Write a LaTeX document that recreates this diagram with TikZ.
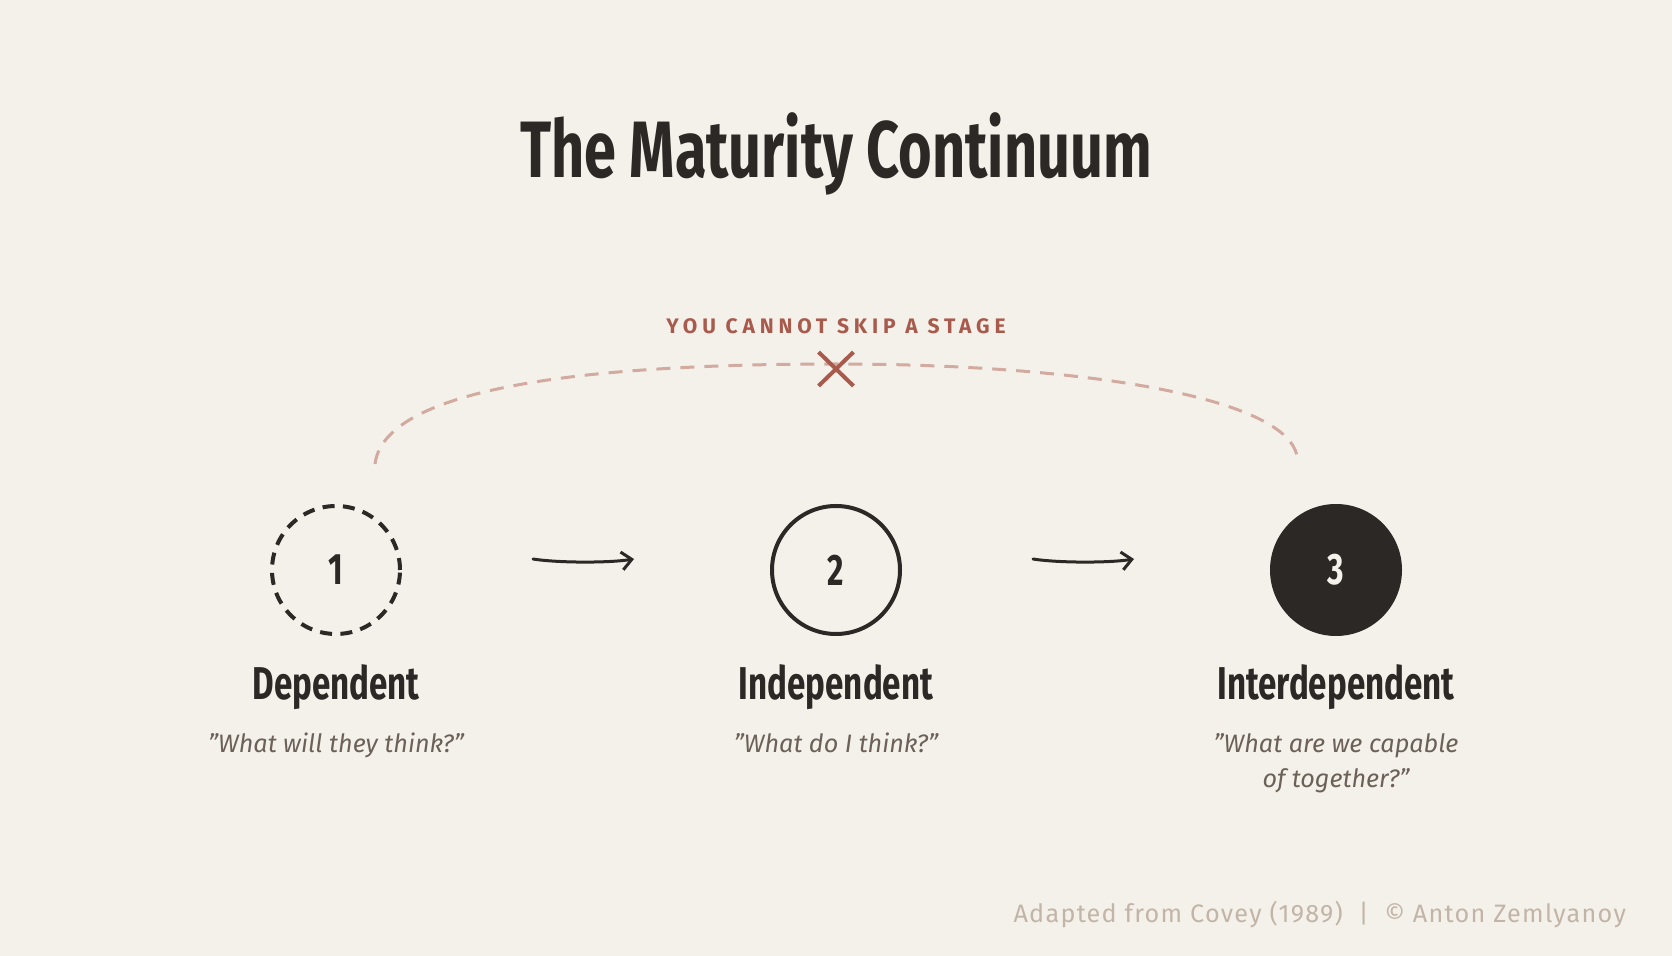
\documentclass[tikz,border=0pt]{standalone}
\usepackage{fontspec}
\setmainfont{Fira Sans}
\newfontfamily\headfont[FakeStretch=0.72]{Fira Sans}
\newfontfamily\notefont[LetterSpace=23]{Fira Sans}
\newfontfamily\footfont[LetterSpace=5]{Fira Sans}
\usetikzlibrary{arrows.meta}

\definecolor{paper}{HTML}{F4F1EB}
\definecolor{ink}{HTML}{2C2825}
\definecolor{murmur}{HTML}{6B6158}
\definecolor{rust}{HTML}{A85B4C}
\definecolor{blush}{HTML}{D2AA9F}
\definecolor{dust}{HTML}{C2B5A7}

\begin{document}
\begin{tikzpicture}
    [
      x=0.5pt,y=-0.5pt,
      stage/.style={circle,draw=ink,line width=2pt,minimum size=64pt,inner sep=0pt,
        text=ink,font=\headfont\bfseries\fontsize{22}{22}\selectfont},
      stagename/.style={anchor=base,text=ink,font=\headfont\bfseries\fontsize{23}{23}\selectfont},
      saying/.style={anchor=base,align=center,text=murmur,
        font=\itshape\fontsize{12.6}{17.5}\selectfont},
      flow/.style={-{Straight Barb[length=5pt,width=9pt,line width=1.5pt]},
        line width=1.5pt,draw=ink,line cap=round},
      skip/.style={draw=blush,line width=1.5pt,dash pattern=on 7pt off 5pt}
    ]

    \fill [paper] (0,0) rectangle (1672,956);
    \useasboundingbox (0,0) rectangle (1672,956);

    \node at (836,178) [anchor=base,text=ink,
      font=\headfont\bfseries\fontsize{40}{40}\selectfont] (title) {The Maturity Continuum};
    \node at (836,334) [anchor=base,text=rust,
      font=\notefont\bfseries\fontsize{10.5}{10.5}\selectfont] (warning) {YOU CANNOT SKIP A STAGE};

    \node at (336,570) [stage,dash pattern=on 6pt off 4.2pt] (dependent) {1};
    \node at (836,570) [stage] (independent) {2};
    \node at (1336,570) [stage,fill=ink,text=paper] (interdependent) {3};

    \node at (336,700) [stagename] (dependentname) {Dependent};
    \node at (836,700) [stagename] (independentname) {Independent};
    \node at (1336,700) [stagename] (interdependentname) {Interdependent};

    \node at (336,753) [saying] (dependentquote) {"What will they think?"};
    \node at (836,753) [saying] (independentquote) {"What do I think?"};
    \node at (1336,788) [saying] (interdependentquote) {"What are we capable\\of together?"};

    \draw [flow] ([shift={(197,-11)}]dependent.center)
      .. controls +(25,4) and +(-25,4) .. ([shift={(-202,-11)}]independent.center);
    \draw [flow] ([shift={(197,-11)}]independent.center)
      .. controls +(25,4) and +(-25,4) .. ([shift={(-202,-11)}]interdependent.center);

    \coordinate (peak) at (836,364);
    \draw [skip] ([shift={(39,-106)}]dependent.center)
      .. controls (385,385) and (600,364) .. (peak)
      .. controls (1070,364) and (1285,395) .. ([shift={(-39,-114)}]interdependent.center);

    \node at (836,369) [minimum width=17pt,minimum height=16.5pt,inner sep=0pt] (cross) {};
    \draw [rust,line width=2pt] (cross.north west) -- (cross.south east);
    \draw [rust,line width=2pt] (cross.north east) -- (cross.south west);

    \node at (1633,922) [anchor=base east,text=dust,
      font=\footfont\fontsize{12.6}{12.6}\selectfont] (credit) {Adapted from Covey (1989)\ \ |\ \ © Anton Zemlyanoy};
  \end{tikzpicture}
\end{document}
